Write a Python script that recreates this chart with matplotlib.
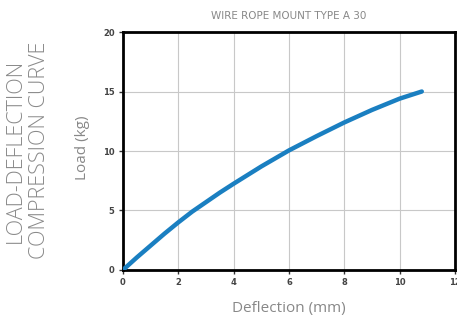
import matplotlib
matplotlib.use("Agg")
import matplotlib.pyplot as plt
import numpy as np

deflection = [0, 0.5, 1, 1.5, 2, 2.5, 3, 3.5, 4, 5, 6, 7, 8, 9, 10, 10.8]
load = [0, 1.05, 2.05, 3.05, 4.0, 4.9, 5.7, 6.5, 7.25, 8.7, 10.05, 11.25, 12.4, 13.45, 14.4, 15.0]
xticks = [0, 2, 4, 6, 8, 10, 12]
yticks = [0, 5, 10, 15, 20]

fig = plt.figure(figsize=(4.57, 3.24), dpi=100)
ax = fig.add_axes([0.269, 0.1667, 0.7266, 0.7345])
ax.plot(deflection, load, color="#1a7fc1", lw=3.2, solid_capstyle="round", zorder=3)
ax.set_xlim(0, 12)
ax.set_ylim(0, 20)
ax.set_xticks(xticks)
ax.set_yticks(yticks)
ax.grid(True, color="#c8c8c8", lw=0.8)
for s in ax.spines.values():
    s.set_linewidth(2)
    s.set_color("black")
ax.tick_params(axis="both", length=3, width=1, labelsize=6, colors="#333333", pad=3)
for lab in ax.get_xticklabels() + ax.get_yticklabels():
    lab.set_fontweight("bold")
    lab.set_color("#444444")
ax.set_xlabel("Deflection (mm)", fontsize=11, color="#888888", labelpad=10, fontfamily="Open Sans")
fig.text(0.18, 0.543, "Load (kg)", rotation=90, fontsize=11, color="#888888",
         ha="center", va="center", fontfamily="Open Sans")
fig.text(0.632, 0.95, "WIRE ROPE MOUNT TYPE A 30", fontsize=7.5, color="#888888",
         ha="center", va="center", fontfamily=["Liberation Sans Narrow", "DejaVu Sans"])
fig.text(0.061, 0.535, "LOAD-DEFLECTION\nCOMPRESSION CURVE", rotation=90, fontsize=15.5,
         color="#8a8a8a", ha="center", va="center", linespacing=1.2,
         fontfamily="Open Sans", fontweight="light")
fig.savefig("out.png", dpi=100)
